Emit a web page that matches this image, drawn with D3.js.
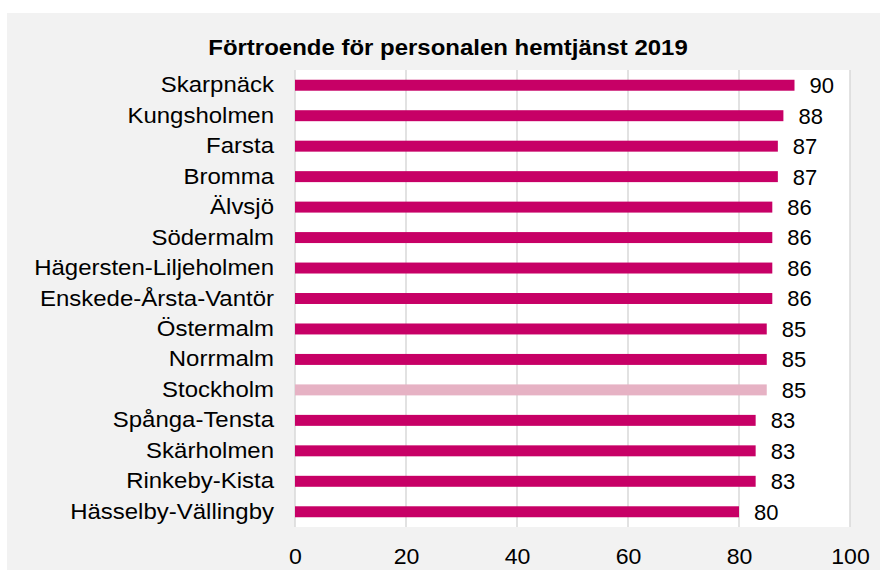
<!DOCTYPE html>
<html>
<head>
<meta charset="utf-8">
<script src="https://cdn.jsdelivr.net/npm/d3@7"></script>
<style>
  body { margin: 0; background: #fff; }
  text { font-family: "Liberation Sans", Arial, sans-serif; fill: #000; }
</style>
</head>
<body>
<script>
// Data
var districts = ["Skarpnäck", "Kungsholmen", "Farsta", "Bromma", "Älvsjö", "Södermalm",
    "Hägersten-Liljeholmen", "Enskede-Årsta-Vantör", "Östermalm", "Norrmalm", "Stockholm",
    "Spånga-Tensta", "Skärholmen", "Rinkeby-Kista", "Hässelby-Vällingby"];
var values = [90, 88, 87, 87, 86, 86, 86, 86, 85, 85, 85, 83, 83, 83, 80];
var xTicks = [0, 20, 40, 60, 80, 100];
var highlight = "Stockholm";

var W = 880, H = 570;
var margin = { top: 70, right: 30, bottom: 43, left: 295 },
    width = 850 - margin.left,
    height = 527 - margin.top;

// the original text is a little wider than the font, so stretch it horizontally
var labelStretch = 1.09, tickStretch = 1.05, titleStretch = 1.09;

var svg = d3.select("body").append("svg")
    .attr("width", W)
    .attr("height", H);

// Gray chart background
svg.append("rect")
    .attr("x", 7).attr("y", 13)
    .attr("width", W - 7).attr("height", H - 13)
    .attr("fill", "#f2f2f2");

svg.append("text")
    .attr("transform", "translate(448,55) scale(" + titleStretch + ",1)")
    .attr("text-anchor", "middle")
    .style("font-size", "22px")
    .style("font-weight", "bold")
    .text("Förtroende för personalen hemtjänst 2019");

var g = svg.append("g")
    .attr("transform", "translate(" + margin.left + "," + margin.top + ")");

var x = d3.scaleLinear().domain([0, 100]).range([0, width]);
var y = d3.scaleBand().domain(districts).range([0, height]).paddingInner(0.64).paddingOuter(0.32);

// Plot area
g.append("rect")
    .attr("width", width)
    .attr("height", height)
    .attr("fill", "#fff");

// Gridlines
g.selectAll(".grid")
    .data(xTicks)
    .enter().append("line")
    .attr("x1", function(d) { return x(d); })
    .attr("x2", function(d) { return x(d); })
    .attr("y1", 0)
    .attr("y2", height)
    .attr("stroke", "#d9d9d9")
    .attr("stroke-width", 1.5);

// Bars
var data = districts.map(function(d, i) { return { name: d, value: values[i] }; });

g.selectAll(".bar")
    .data(data)
    .enter().append("rect")
    .attr("x", 0)
    .attr("y", function(d) { return y(d.name); })
    .attr("width", function(d) { return x(d.value); })
    .attr("height", y.bandwidth())
    .attr("fill", function(d) { return d.name === highlight ? "#e6b2c4" : "#c70066"; });

// Value labels
g.selectAll(".val")
    .data(data)
    .enter().append("text")
    .attr("x", function(d) { return x(d.value) + 15; })
    .attr("y", function(d) { return y(d.name) + y.bandwidth() / 2; })
    .attr("dy", "0.36em")
    .style("font-size", "22px")
    .text(function(d) { return d.value; });

// Y axis labels
var yAxis = g.append("g")
    .call(d3.axisLeft(y).tickSize(0).tickPadding(21));
yAxis.select(".domain").remove();
yAxis.selectAll("text")
    .attr("x", -21 / labelStretch)
    .attr("transform", "scale(" + labelStretch + ",1)")
    .style("font-size", "22px")
    .style("font-family", "'Liberation Sans', Arial, sans-serif")
    .attr("fill", "#000");

// X axis labels
var xAxis = g.append("g")
    .attr("transform", "translate(0," + height + ")")
    .call(d3.axisBottom(x).tickValues(xTicks).tickSize(0).tickPadding(21));
xAxis.select(".domain").remove();
xAxis.selectAll("text")
    .attr("transform", "scale(" + tickStretch + ",1)")
    .style("font-size", "22px")
    .style("font-family", "'Liberation Sans', Arial, sans-serif")
    .attr("fill", "#000");
</script>
</body>
</html>
